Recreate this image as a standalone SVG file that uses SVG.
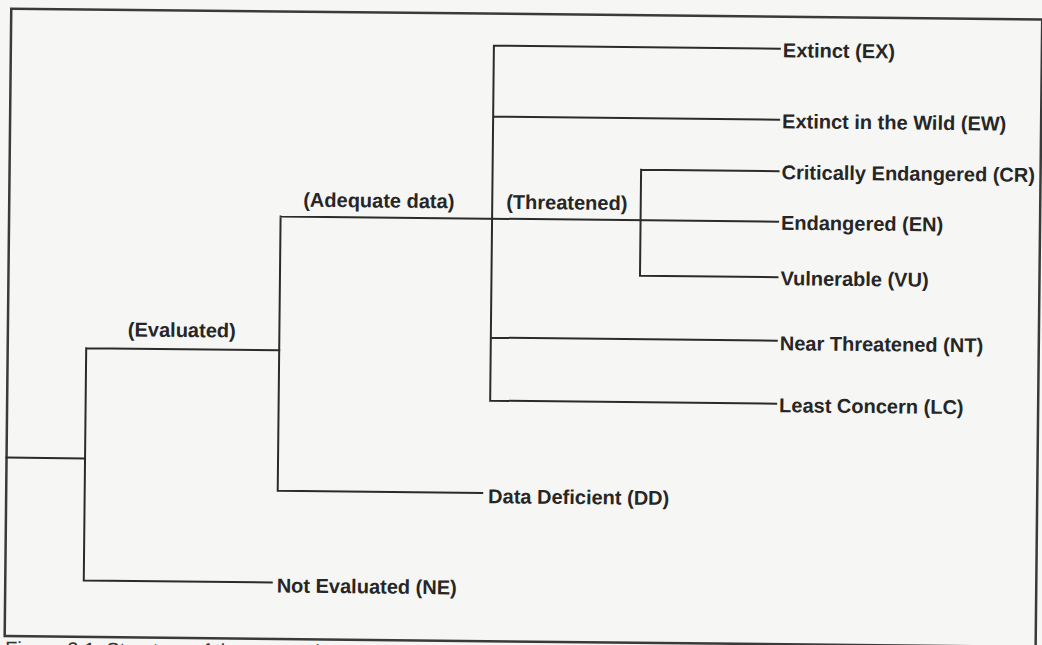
<svg xmlns="http://www.w3.org/2000/svg" width="1042" height="645" viewBox="0 0 1042 645">
<style>
.ln{stroke:#2b2b2b;stroke-width:2;fill:none;stroke-linecap:square}
.frame{stroke:#3a3a3a;stroke-width:2.5;fill:none}
.lbl{font-family:"Liberation Sans",Arial,Helvetica,sans-serif;font-weight:bold;font-size:20px;fill:#262626}
.cap{font-family:"Liberation Sans",Arial,Helvetica,sans-serif;font-size:20px;fill:#333333}
</style>
<rect width="1042" height="645" fill="#f6f6f4"/>
<g transform="rotate(0.6 521 322)">
<rect class="frame" x="8" y="14" width="1031" height="627.5"/>
<text class="cap" x="8.5" y="661">Figure 3.1: Structure of the categories</text>
<g id="connectors">
<path class="ln" d="M8 463H86.5 M86.5 352.7V585 M86.5 352.7H279.5 M86.5 585H274.5"/>
<path class="ln" d="M279.5 219V493.3 M279.5 219H777 M279.5 493.3H484"/>
<path class="ln" d="M491 46V401 M491 46H777 M491 117H777 M491 338H777 M491 401H777"/>
<path class="ln" d="M639.5 168.5V274.5 M639.5 168.5H777 M639.5 274.5H777"/>
</g>
<g id="branch-evaluated"><text class="lbl" x="128" y="340.5">(Evaluated)</text></g>
<g id="branch-adequate"><text class="lbl" x="302" y="209">(Adequate data)</text></g>
<g id="branch-threatened"><text class="lbl" x="505" y="209">(Threatened)</text></g>
<g id="node-ex"><text class="lbl" x="780" y="54.5">Extinct (EX)</text></g>
<g id="node-ew"><text class="lbl" x="780" y="125.5">Extinct in the Wild (EW)</text></g>
<g id="node-cr"><text class="lbl" x="780" y="176.5">Critically Endangered (CR)</text></g>
<g id="node-en"><text class="lbl" x="780" y="227">Endangered (EN)</text></g>
<g id="node-vu"><text class="lbl" x="780" y="282.5">Vulnerable (VU)</text></g>
<g id="node-nt"><text class="lbl" x="780" y="347.5">Near Threatened (NT)</text></g>
<g id="node-lc"><text class="lbl" x="780" y="409.5">Least Concern (LC)</text></g>
<g id="node-dd"><text class="lbl" x="490" y="503.5">Data Deficient (DD)</text></g>
<g id="node-ne"><text class="lbl" x="279.5" y="595">Not Evaluated (NE)</text></g>
</g>
</svg>
